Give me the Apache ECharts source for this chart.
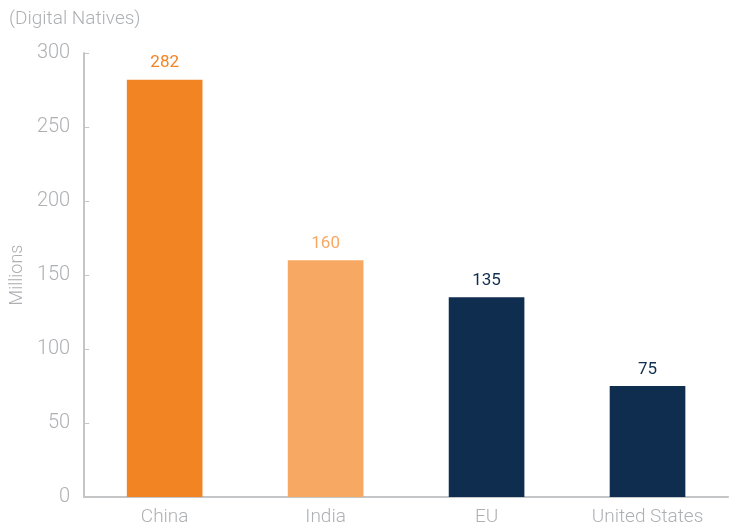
<!DOCTYPE html>
<html><head><meta charset="utf-8">
<script src="https://cdn.jsdelivr.net/npm/echarts@6/dist/echarts.min.js"></script>
<style>html,body{margin:0;padding:0;background:#fff}#c{width:737px;height:531px}</style>
</head><body><div id="c"></div>
<script>
const categories = ['China', 'India', 'EU', 'United States'];
const values = [282, 160, 135, 75];
const barColors = ['#F38423', '#F7A964', '#0F2D4F', '#0F2D4F'];
const yTicks = [0, 50, 100, 150, 200, 250, 300];

const chart = echarts.init(document.getElementById('c'));
const gray = '#AEB0B3';
const font = 'Roboto, "Liberation Sans", sans-serif';
chart.setOption({
  animation: false,
  grid: { left: 81, right: 9, top: 53, bottom: 34, containLabel: false },
  title: {
    text: '(Digital Natives)', left: 4, top: 5,
    textStyle: { color: gray, fontSize: 19, fontWeight: 300, fontFamily: font }
  },
  xAxis: {
    type: 'category', data: categories,
    axisLine: { lineStyle: { color: '#C4C5C7', width: 2 } },
    axisTick: { inside: true, length: 6, lineStyle: { color: '#C4C5C7', width: 1 } },
    axisLabel: { color: gray, fontSize: 19, fontWeight: 300, fontFamily: font, margin: 11 }
  },
  yAxis: {
    type: 'value', min: yTicks[0], max: yTicks[yTicks.length - 1], interval: 50,
    name: 'Millions', nameLocation: 'middle', nameGap: 58, nameRotate: 90,
    nameTextStyle: { color: gray, fontSize: 18, fontWeight: 300, fontFamily: font },
    axisLine: { show: true, lineStyle: { color: '#C4C5C7', width: 2 } },
    axisTick: { show: true, inside: true, length: 5, lineStyle: { color: '#C4C5C7', width: 1 } },
    splitLine: { show: false },
    axisLabel: { color: gray, fontSize: 20, fontWeight: 300, fontFamily: font, margin: 14 }
  },
  series: [{
    type: 'bar', barWidth: '47%',
    data: values.map((v, i) => ({ value: v, itemStyle: { color: barColors[i] },
      label: { color: barColors[i] } })),
    label: { show: true, position: 'top', distance: 8, fontSize: 17, fontFamily: font }
  }]
});
</script></body></html>
